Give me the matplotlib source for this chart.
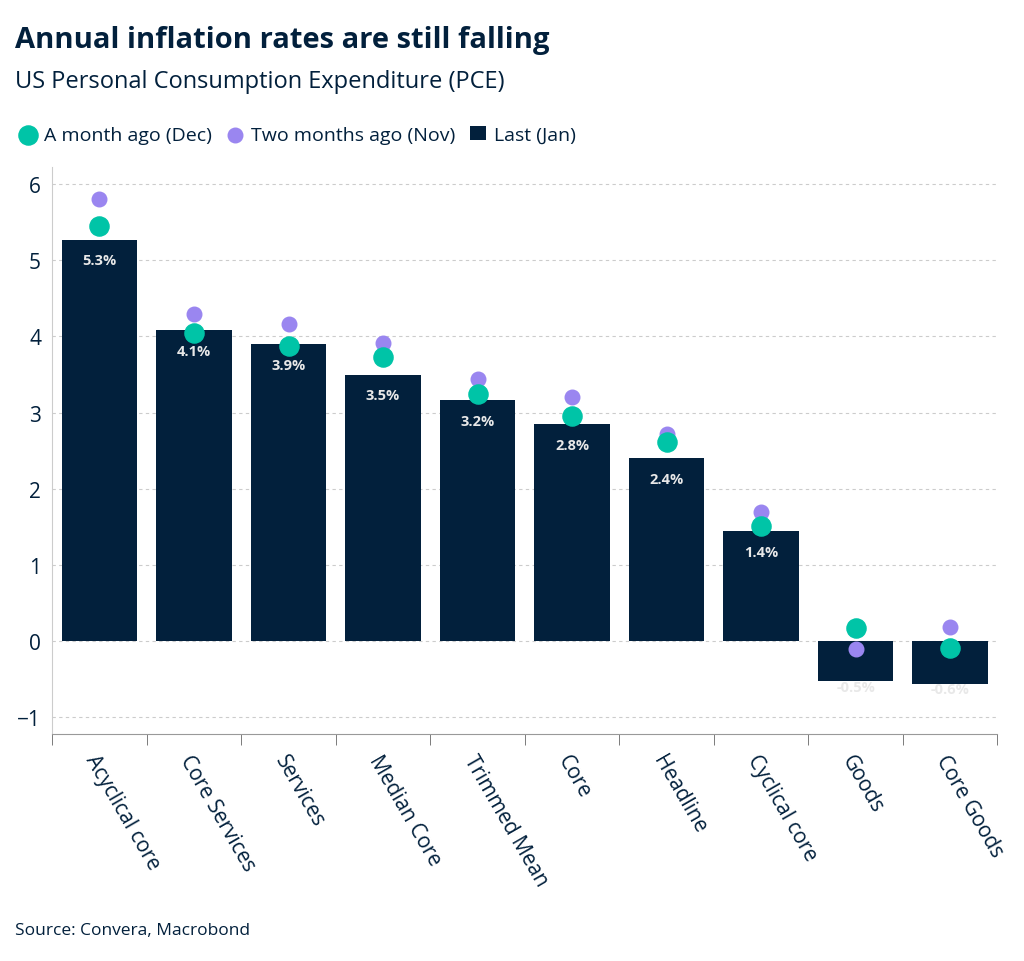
import numpy as np
import matplotlib.pyplot as plt

plt.rcParams['font.family'] = ['Open Sans', 'DejaVu Sans']

categories = ["Acyclical core", "Core Services", "Services", "Median Core", "Trimmed Mean",
              "Core", "Headline", "Cyclical core", "Goods", "Core Goods"]
last_jan = [5.27, 4.08, 3.90, 3.50, 3.16, 2.85, 2.40, 1.44, -0.53, -0.56]
dec = [5.45, 4.04, 3.88, 3.73, 3.24, 2.95, 2.62, 1.51, 0.17, -0.09]
nov = [5.80, 4.29, 4.16, 3.91, 3.44, 3.20, 2.72, 1.69, -0.10, 0.18]
bar_labels = ["5.3%", "4.1%", "3.9%", "3.5%", "3.2%", "2.8%", "2.4%", "1.4%", "-0.5%", "-0.6%"]

navy = "#02203c"
teal = "#00c4a7"
purple = "#9a86f0"

fig = plt.figure(figsize=(10.24, 9.62), dpi=100)
ax = fig.add_axes([0.051, 0.236, 0.923, 0.589])

x = np.arange(len(categories))
ax.bar(x, last_jan, width=0.8, color=navy, zorder=2, label="Last (Jan)")
ax.scatter(x, dec, s=190, color=teal, zorder=4, label="A month ago (Dec)")
ax.scatter(x, nov, s=110, color=purple, zorder=3, label="Two months ago (Nov)")

for xi, v, lab in zip(x, last_jan, bar_labels):
    y = v - 0.18 if v > 0 else v + 0.02
    ax.text(xi, y, lab, ha="center", va="top", color="#e8e8e8", fontsize=10.5, fontweight="bold", zorder=5)

ax.set_xlim(-0.5, len(categories) - 0.5)
ax.set_ylim(-1.22, 6.22)
ax.set_yticks(range(-1, 7))
ax.tick_params(axis="y", length=0, labelsize=15, colors=navy, pad=8)
ax.set_xticks(x)
ax.set_xticklabels(categories, rotation=-60, ha="left", rotation_mode="anchor", fontsize=15, color=navy)
ax.tick_params(axis="x", length=0, pad=12)
ax.set_xticks(np.arange(-0.5, len(categories)), minor=True)
ax.tick_params(axis="x", which="minor", length=8, color="#666666")
ax.grid(axis="y", linestyle=(0, (3, 3)), color="#cccccc", linewidth=0.8, zorder=0)
for s in ["top", "right"]:
    ax.spines[s].set_visible(False)
ax.spines["left"].set_color("#cccccc")
ax.spines["bottom"].set_color("#999999")

fig.text(0.015, 0.958, "Annual inflation rates are still falling", fontsize=21, fontweight="bold", color=navy, va="center")
fig.text(0.015, 0.915, "US Personal Consumption Expenditure (PCE)", fontsize=17, color=navy, va="center")
fig.legend(loc="center left", bbox_to_anchor=(0.003, 0.859), ncol=3, frameon=False, fontsize=14,
           handlelength=0.8, handletextpad=0.4, columnspacing=0.8, labelcolor=navy)
fig.text(0.015, 0.032, "Source: Convera, Macrobond", fontsize=12.5, color=navy, va="center")

fig.savefig("out.png", dpi=100)
